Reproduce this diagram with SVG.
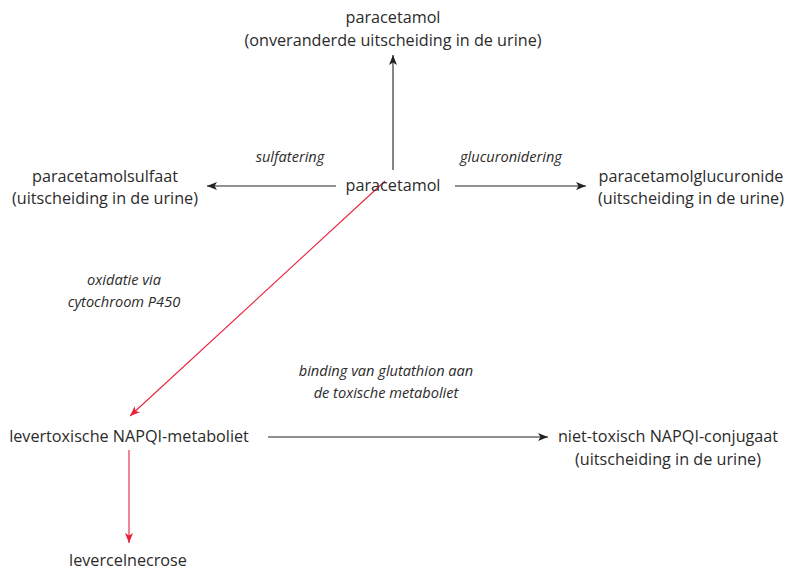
<svg xmlns="http://www.w3.org/2000/svg" width="791" height="571" viewBox="0 0 791 571">
<style>
text{font-family:"Open Sans","Noto Sans",sans-serif;font-size:16.2px;fill:#2b2b2b;text-anchor:middle}
.i{font-style:italic;font-size:14.6px}
.k{stroke:#222;stroke-width:1.1;fill:none}
.r{stroke:#e8203a;stroke-width:1.1;fill:none}
</style>
<defs>
<marker id="ak" viewBox="0 0 10 8" refX="10" refY="4" markerWidth="10" markerHeight="8" markerUnits="userSpaceOnUse" orient="auto"><path d="M0,0 L10,4 L0,8 L2.5,4 z" fill="#222"/></marker>
<marker id="ar" viewBox="0 0 10 8" refX="10" refY="4" markerWidth="10" markerHeight="8" markerUnits="userSpaceOnUse" orient="auto"><path d="M0,0 L10,4 L0,8 L2.5,4 z" fill="#e8203a"/></marker>
</defs>
<g id="connectors">
<line class="k" x1="393" y1="170" x2="393" y2="55" marker-end="url(#ak)"/>
<line class="k" x1="336" y1="186" x2="207" y2="186" marker-end="url(#ak)"/>
<line class="k" x1="455" y1="186" x2="586" y2="186" marker-end="url(#ak)"/>
<line class="r" x1="385" y1="181" x2="130" y2="416" marker-end="url(#ar)"/>
<line class="k" x1="268" y1="437" x2="548" y2="437" marker-end="url(#ak)"/>
<line class="r" x1="129" y1="450" x2="129" y2="543" marker-end="url(#ar)"/>
<text class="i" x="290" y="162">sulfatering</text>
<text class="i" x="511" y="162">glucuronidering</text>
<text class="i" x="124" y="285">oxidatie via</text>
<text class="i" x="124" y="307">cytochroom P450</text>
<text class="i" x="386" y="376">binding van glutathion aan</text>
<text class="i" x="386" y="398">de toxische metaboliet</text>
</g>
<g id="n-top"><text x="393" y="23">paracetamol</text><text x="393" y="46">(onveranderde uitscheiding in de urine)</text></g>
<g id="n-center"><text x="393" y="191">paracetamol</text></g>
<g id="n-sulfaat"><text x="105" y="182">paracetamolsulfaat</text><text x="105" y="204">(uitscheiding in de urine)</text></g>
<g id="n-gluc"><text x="691" y="182">paracetamolglucuronide</text><text x="691" y="204">(uitscheiding in de urine)</text></g>
<g id="n-napqi"><text x="129" y="442">levertoxische NAPQI-metaboliet</text></g>
<g id="n-conj"><text x="668" y="442">niet-toxisch NAPQI-conjugaat</text><text x="668" y="465">(uitscheiding in de urine)</text></g>
<g id="n-necrose"><text x="128" y="566">levercelnecrose</text></g>
</svg>
